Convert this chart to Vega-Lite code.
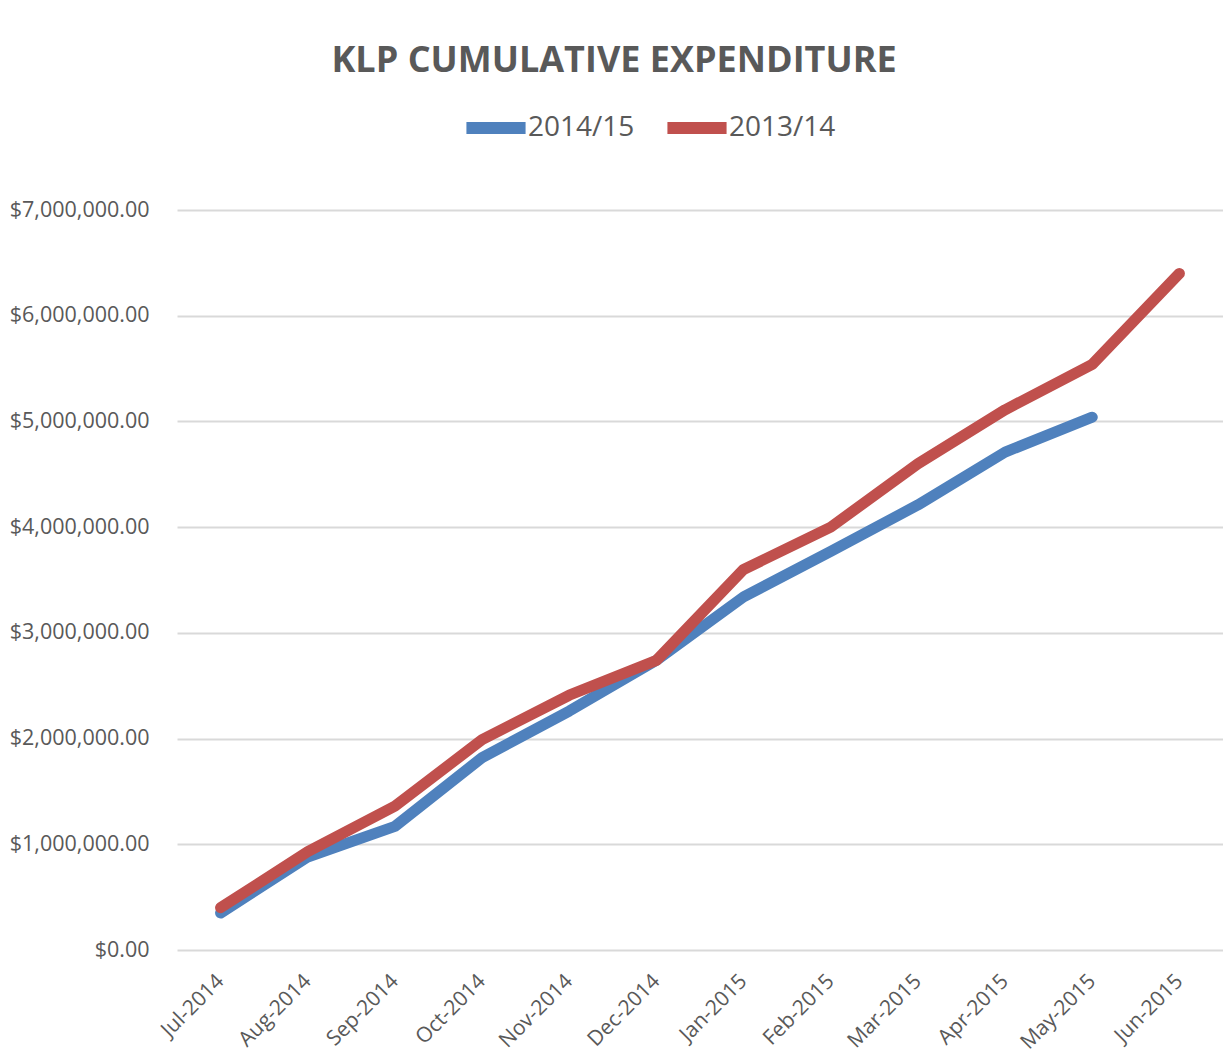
{
  "$schema": "https://vega.github.io/schema/vega-lite/v6.json",
  "autosize": "none",
  "width": 1046,
  "height": 740,
  "padding": {"left": 177, "top": 210, "right": 0, "bottom": 104},
  "background": "white",
  "title": {
    "text": "KLP CUMULATIVE EXPENDITURE",
    "font": "Open Sans",
    "fontSize": 36,
    "fontWeight": "bold",
    "color": "#595959",
    "anchor": "middle",
    "dx": -86,
    "offset": 12
  },
  "config": {
    "view": {"stroke": null},
    "font": "Open Sans"
  },
  "data": {
    "values": [
      {"month": "Jul-2014", "series": "2014/15", "value": 350000},
      {"month": "Aug-2014", "series": "2014/15", "value": 880000},
      {"month": "Sep-2014", "series": "2014/15", "value": 1170000},
      {"month": "Oct-2014", "series": "2014/15", "value": 1820000},
      {"month": "Nov-2014", "series": "2014/15", "value": 2260000},
      {"month": "Dec-2014", "series": "2014/15", "value": 2740000},
      {"month": "Jan-2015", "series": "2014/15", "value": 3340000},
      {"month": "Feb-2015", "series": "2014/15", "value": 3770000},
      {"month": "Mar-2015", "series": "2014/15", "value": 4210000},
      {"month": "Apr-2015", "series": "2014/15", "value": 4710000},
      {"month": "May-2015", "series": "2014/15", "value": 5040000},
      {"month": "Jul-2014", "series": "2013/14", "value": 400000},
      {"month": "Aug-2014", "series": "2013/14", "value": 930000},
      {"month": "Sep-2014", "series": "2013/14", "value": 1360000},
      {"month": "Oct-2014", "series": "2013/14", "value": 1990000},
      {"month": "Nov-2014", "series": "2013/14", "value": 2410000},
      {"month": "Dec-2014", "series": "2013/14", "value": 2740000},
      {"month": "Jan-2015", "series": "2013/14", "value": 3600000},
      {"month": "Feb-2015", "series": "2013/14", "value": 4000000},
      {"month": "Mar-2015", "series": "2013/14", "value": 4600000},
      {"month": "Apr-2015", "series": "2013/14", "value": 5110000},
      {"month": "May-2015", "series": "2013/14", "value": 5540000},
      {"month": "Jun-2015", "series": "2013/14", "value": 6400000}
    ]
  },
  "encoding": {
    "x": {
      "field": "month",
      "type": "ordinal",
      "sort": ["Jul-2014","Aug-2014","Sep-2014","Oct-2014","Nov-2014","Dec-2014","Jan-2015","Feb-2015","Mar-2015","Apr-2015","May-2015","Jun-2015"],
      "scale": {"type": "point", "padding": 0.5},
      "axis": {
        "title": null,
        "labelAngle": -45,
        "labelFontSize": 21,
        "labelColor": "#595959",
        "labelFont": "Open Sans",
        "domain": false,
        "ticks": false,
        "grid": false,
        "labelPadding": 20,
        "labelOffset": -8
      }
    },
    "y": {
      "field": "value",
      "type": "quantitative",
      "scale": {"domain": [0, 7000000]},
      "axis": {
        "title": null,
        "format": "$,.2f",
        "values": [0,1000000,2000000,3000000,4000000,5000000,6000000,7000000],
        "labelFontSize": 21.5,
        "labelColor": "#595959",
        "labelFont": "Open Sans",
        "domain": false,
        "ticks": false,
        "gridColor": "#d9d9d9",
        "gridWidth": 2,
        "labelPadding": 28
      }
    },
    "color": {
      "field": "series",
      "type": "nominal",
      "scale": {"domain": ["2014/15", "2013/14"], "range": ["#4f81bd", "#c0504d"]},
      "legend": {
        "title": null,
        "orient": "none",
        "legendX": 283,
        "legendY": -118,
        "direction": "horizontal",
        "symbolType": "stroke",
        "symbolSize": 3500,
        "symbolStrokeWidth": 12,
        "labelFontSize": 28,
        "labelColor": "#595959",
        "labelFont": "Open Sans",
        "labelOffset": -4,
        "columnPadding": 8
      }
    }
  },
  "layer": [
    {
      "transform": [{"filter": "datum.series === '2014/15'"}],
      "mark": {"type": "line", "strokeWidth": 11, "strokeCap": "round", "strokeJoin": "round"}
    },
    {
      "transform": [{"filter": "datum.series === '2013/14'"}],
      "mark": {"type": "line", "strokeWidth": 11, "strokeCap": "round", "strokeJoin": "round"}
    }
  ]
}
